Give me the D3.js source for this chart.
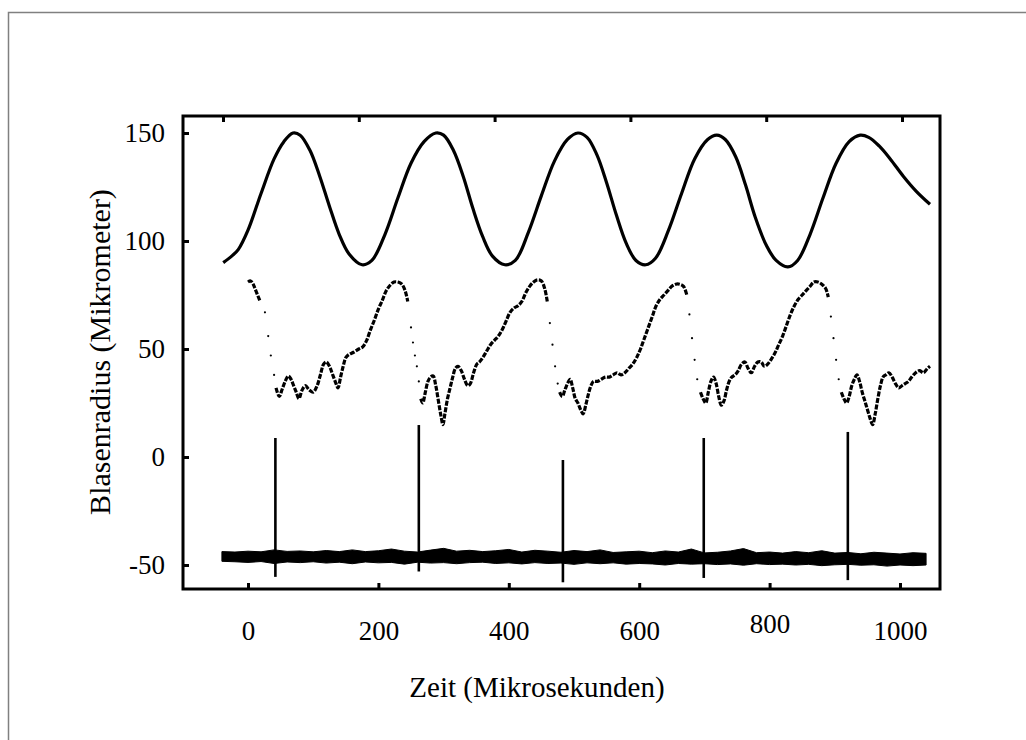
<!DOCTYPE html>
<html><head><meta charset="utf-8">
<script src="https://cdn.jsdelivr.net/npm/d3@7"></script>
<style>body{margin:0;background:#fff}</style>
</head><body><svg id="c" width="1026" height="740"></svg>
<script>
// ---- data ----
const xTickValues = [0, 200, 400, 600, 800, 1000];
const yTickValues = [-50, 0, 50, 100, 150];
const xTitle = "Zeit (Mikrosekunden)";
const yTitle = "Blasenradius (Mikrometer)";

// top trace: [time, radius]
const topTrace = [[-38,90],[-25,93],[-15,96],[0,105],[20,122],[40,138],[55,146],[69,150],[80,149],[95,142],[110,130],[125,116],[140,103],[155,94],[175,89],[190,91],[210,103],[230,120],[250,136],[270,146],[288,150],[300,149],[315,142],[330,130],[345,115],[360,102],[375,93],[394,89],[410,91],[430,104],[450,121],[470,137],[490,147],[506,150],[520,148],[535,140],[550,127],[565,112],[580,99],[595,91],[610,89],[625,92],[645,105],[665,122],[685,138],[705,147],[719,149],[732,147],[748,139],[763,126],[778,111],[795,98],[810,91],[828,88],[843,91],[862,103],[882,120],[902,136],[922,146],[939,149],[952,148],[968,144],[985,138],[1005,130],[1025,123],[1046,117]];

// middle trace, dense parts (null = gap)
const midDense = [[0,81],[4,81.5],[8,80],[12,77],[18,72.5],null,
[43,32],[48,28],[52,31],[57,35],[62,37.5],[66,36],[70,33],[74,30],[78,27],[83,31],[88,33],[94,31],[100,30],[106,33],[111,38],[116,43],[120,44],[125,42],[130,38],[135,34],[138,32],[142,37],[146,42],[150,46],[155,47.5],[162,48.5],[170,50],[176,51],[182,54],[188,59],[194,63.5],[200,68.5],[206,72.5],[212,77],[218,79.5],[224,81],[230,81],[236,80],[241,77],[245,72],null,
[265,27],[268,25],[272,30],[276,35],[280,37],[284,37.5],[288,33],[292,26],[296,19],[299,15],[302,20],[306,27],[310,32],[314,37],[318,41],[322,42],[327,40],[332,36],[337,33],[341,34],[346,39],[351,43],[355,44],[360,46],[366,49],[372,52],[378,54],[384,56],[390,59],[396,63],[402,67],[408,69],[414,70],[420,72],[426,76],[432,79],[438,81],[444,82],[450,81.5],[455,78],[459,72],null,
[478,30],[482,28],[486,31],[490,34],[494,36],[498,32],[502,27],[506,25],[510,22],[514,20],[518,24],[522,29],[526,33],[530,35],[536,35],[542,36],[548,37],[554,37],[560,38],[566,39],[572,38],[578,39],[584,41],[590,43],[596,46],[602,50],[608,55],[614,60],[620,65],[626,70],[632,73],[638,75],[644,77],[650,79],[656,80],[662,80],[668,79],[673,75],null,
[694,30],[698,27],[702,25],[706,30],[710,35],[714,37],[718,34],[722,28],[726,24],[730,26],[734,31],[738,35],[742,37],[747,38],[752,40],[757,43],[762,44],[767,41],[772,39],[777,42],[782,44],[787,44],[792,42],[797,43],[802,45],[808,48],[814,52],[820,56],[826,61],[832,66],[838,70],[844,73],[850,75],[856,77],[862,79],[868,81],[874,81],[880,80],[886,78],[890,74],null,
[910,30],[914,27],[918,25],[922,28],[926,33],[930,36],[934,38],[938,35],[942,30],[946,26],[950,22],[954,18],[958,15],[962,20],[966,27],[970,33],[974,37],[978,38],[983,39],[988,37],[993,34],[998,32],[1003,33],[1008,34],[1013,35],[1018,37],[1024,39],[1030,40],[1036,39],[1042,41],[1046,42]];

// middle trace, sparse dots on the fast collapses
const midSparse = [[26,67],[31,56],[35,47],[40,38],[250,60],[253,53],[256,47],[259,42],[262,35],[463,62],[467,52],[471,42],[475,34],[677,66],[681,55],[685,45],[689,36],[894,65],[898,55],[902,45],[906,36]];

// bottom trace: spikes
const spikeTime = [42, 262, 483, 699, 920];
const spikeTop = [8.8, 14.8, -1.4, 8.8, 11.6];
const spikeBottom = [-55.5, -53, -58, -56, -57];

// bottom trace: noise band (upper and lower edge)
const noiseT = [-40,-20,0,20,40,60,80,100,120,140,160,180,200,220,240,260,280,300,320,340,360,380,400,420,440,460,480,500,520,540,560,580,600,620,640,660,680,700,720,740,760,780,800,820,840,860,880,900,920,940,960,980,1000,1020,1040];
const noiseHi = [-43.8,-44.0,-43.6,-43.9,-43.0,-43.7,-43.5,-43.9,-43.3,-43.8,-43.0,-43.8,-43.4,-42.6,-43.6,-44.0,-43.1,-42.3,-43.6,-43.2,-43.8,-43.4,-42.8,-44.0,-43.2,-43.6,-44.1,-43.3,-43.8,-43.0,-44.2,-43.9,-43.6,-44.3,-43.5,-44.0,-42.6,-44.4,-44.1,-43.5,-42.4,-44.3,-44.0,-44.5,-43.8,-44.3,-43.4,-44.5,-44.2,-44.8,-44.1,-44.5,-44.9,-44.3,-44.6];
const noiseLo = [-48.3,-48.5,-48.8,-48.4,-49.3,-48.6,-48.9,-48.5,-49.1,-48.7,-49.4,-48.6,-49.0,-48.8,-49.6,-48.7,-49.1,-48.9,-49.4,-48.9,-48.7,-49.3,-49.0,-49.5,-48.9,-49.3,-49.1,-49.7,-49.0,-49.4,-49.0,-49.6,-49.3,-49.5,-50.0,-49.3,-49.6,-49.4,-49.8,-49.5,-50.1,-49.4,-49.8,-49.6,-50.0,-49.7,-50.3,-49.9,-49.7,-50.1,-49.9,-50.5,-50.0,-50.3,-50.0];

// ---- drawing ----
const svg = d3.select("#c");
const font = "'Liberation Serif','Times New Roman',serif";
svg.append("rect").attr("width",1026).attr("height",740).attr("fill","#fff");
svg.append("path").attr("d","M8.5,740 L8.5,12.5 L1026,12.5").attr("fill","none").attr("stroke","#808080").attr("stroke-width",1.5);

const fLeft=183, fRight=940, fTop=116, fBottom=589;
const x = d3.scaleLinear().domain([0,1000]).range([248,900]);
const xTop = d3.scaleLinear().domain([0,1000]).range([223,902]);
const y = d3.scaleLinear().domain([-50,150]).range([565,133]);

const noise = noiseT.map((t,i)=>({t, hi:noiseHi[i], lo:noiseLo[i]}));
svg.append("path").datum(noise)
  .attr("d", d3.area().x(d=>x(d.t)).y0(d=>y(d.lo)).y1(d=>y(d.hi)))
  .attr("fill","#000").attr("stroke","#000").attr("stroke-width",1);
svg.selectAll("line.spike").data(spikeTime).join("line").attr("class","spike")
  .attr("x1",d=>x(d)).attr("x2",d=>x(d))
  .attr("y1",(d,i)=>y(spikeTop[i])).attr("y2",(d,i)=>y(spikeBottom[i]))
  .attr("stroke","#000").attr("stroke-width",2.6);

svg.append("path").datum(topTrace)
  .attr("d", d3.line().x(d=>x(d[0])).y(d=>y(d[1])).curve(d3.curveCatmullRom))
  .attr("fill","none").attr("stroke","#000").attr("stroke-width",3.2);

svg.append("path").datum(midDense)
  .attr("d", d3.line().defined(d=>d!==null).x(d=>x(d[0])).y(d=>y(d[1])).curve(d3.curveCatmullRom))
  .attr("fill","none").attr("stroke","#000").attr("stroke-width",3.2).attr("stroke-dasharray","5 1.5");
svg.selectAll("circle.sp").data(midSparse).join("circle").attr("class","sp")
  .attr("cx",d=>x(d[0])).attr("cy",d=>y(d[1])).attr("r",1.1).attr("fill","#000");

svg.append("rect").attr("x",fLeft).attr("y",fTop).attr("width",fRight-fLeft).attr("height",fBottom-fTop)
  .attr("fill","none").attr("stroke","#000").attr("stroke-width",3);

const fmt = d => String(d);
const gB = svg.append("g").attr("transform",`translate(0,${fBottom})`)
  .call(d3.axisBottom(x).tickValues(xTickValues).tickSize(-6).tickPadding(32).tickFormat(fmt));
const gT = svg.append("g").attr("transform",`translate(0,${fTop})`)
  .call(d3.axisTop(xTop).tickValues(xTickValues).tickSize(-6).tickFormat(""));
const gL = svg.append("g").attr("transform",`translate(${fLeft},0)`)
  .call(d3.axisLeft(y).tickValues(yTickValues).tickSize(-6).tickPadding(18).tickFormat(fmt));
[gB,gT,gL].forEach(g=>{
  g.select(".domain").remove();
  g.selectAll(".tick line").attr("stroke","#000").attr("stroke-width",3);
  g.selectAll(".tick text").attr("font-family",font).attr("font-size",27).attr("fill","#000");
});
gB.selectAll(".tick text").filter(d=>d===800).attr("dy","0.45em");

svg.append("text").attr("x",537).attr("y",697).attr("text-anchor","middle")
  .attr("font-family",font).attr("font-size",29).text(xTitle);
svg.append("text").attr("transform","translate(110,352) rotate(-90)").attr("text-anchor","middle")
  .attr("font-family",font).attr("font-size",30).text(yTitle);
</script></body></html>
